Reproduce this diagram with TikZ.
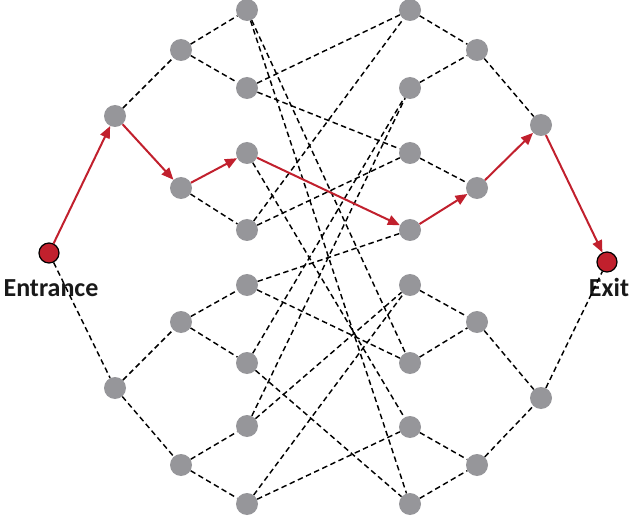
\documentclass[tikz,border=0pt]{standalone}
\usepackage{fontspec}
\setmainfont{Carlito}
\usetikzlibrary{arrows.meta}
\definecolor{nodegray}{RGB}{150,150,154}
\definecolor{pathred}{RGB}{193,32,45}
\begin{document}
\begin{tikzpicture}[x=1pt, y=-1pt, line join=round,
		dot/.style={circle, fill=nodegray, inner sep=0pt, minimum size=22pt},
		door/.style={circle, fill=pathred, draw=black, line width=1.2pt, inner sep=0pt, minimum size=20pt},
		link/.style={draw=black, line width=1.45pt, dash pattern=on 5.5pt off 3.5pt},
		route/.style={draw=pathred, line width=2pt, -{Triangle[length=12pt,width=10pt]}},
		tag/.style={font=\bfseries\fontsize{26}{30}\selectfont, anchor=base, text=black!90}]
	\useasboundingbox (0,0) rectangle (630,516);
	\def\xl{247} % inner left column
	\def\xr{410} % inner right column
	% entrance and exit
	\node[door] (E) at (49,253) {};
	\node[door] (X) at (607,262) {};
	% left tree
	\node[dot] (A1) at (115,116) {};
	\node[dot] (A2) at (115,388) {};
	\foreach \i/\y in {1/50,2/188,3/322,4/465} \node[dot] (B\i) at (181,\y) {};
	\foreach \i/\y in {1/10,2/88,3/153,4/230,5/285,6/363,7/426,8/504} \node[dot] (L\i) at (\xl,\y) {};
	% right tree
	\foreach \i/\y in {1/10,2/88,3/153,4/230,5/285,6/363,7/427,8/504} \node[dot] (R\i) at (\xr,\y) {};
	\foreach \i/\y in {1/50,2/188,3/322,4/465} \node[dot] (C\i) at (477,\y) {};
	\node[dot] (D1) at (541,125) {};
	\node[dot] (D2) at (541,398) {};
	% labels
	\node[tag] (entrance) at (51,297) {Entrance};
	\node[tag] (exit) at (609,297) {Exit};
	% dashed edges
	\foreach \a/\b in {E/A2, A1/B1, A2/B3, A2/B4, B1/L1, B1/L2, B2/L4, B3/L5, B3/L6, B4/L7, B4/L8,
		L1/R6, L1/R8, L2/R1, L2/R3, L3/R7, L4/R1, L4/R3, L5/R4, L5/R6, L6/R2, L6/R8, L7/R2, L7/R5, L8/R5, L8/R7,
		R1/C1, R2/C1, R3/C2, R5/C3, R6/C3, R7/C4, R8/C4, C1/D1, C3/D2, C4/D2, D2/X}
		\draw[link] (\a) -- (\b);
	% the path through
	\foreach \a/\b in {E/A1, A1/B2, B2/L3, L3/R4, R4/C2, C2/D1, D1/X}
		\draw[route] (\a) -- (\b);
\end{tikzpicture}
\end{document}
